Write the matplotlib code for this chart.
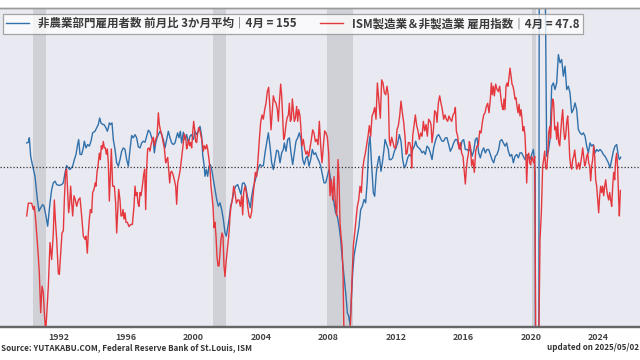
import matplotlib
matplotlib.use("Agg")
import matplotlib.pyplot as plt

plt.rcParams['font.family'] = ['Noto Sans CJK JP', 'DejaVu Sans']

# nonfarm payrolls, 3-month average of monthly change (thousands), decimal years
nfp_dates = [
    1990.125, 1990.224, 1990.283, 1990.362, 1990.481, 1990.619, 1990.678, 1990.757, 1990.856, 1990.955,
    1991.073, 1991.152, 1991.271, 1991.370, 1991.508, 1991.607, 1991.705, 1991.804, 1991.903, 1992.061,
    1992.199, 1992.298, 1992.397, 1992.495, 1992.594, 1992.693, 1992.851, 1992.950, 1993.049, 1993.128,
    1993.207, 1993.286, 1993.384, 1993.483, 1993.542, 1993.641, 1993.740, 1993.839, 1993.937, 1994.036,
    1994.174, 1994.273, 1994.372, 1994.451, 1994.530, 1994.629, 1994.708, 1994.826, 1994.905, 1994.965,
    1995.024, 1995.103, 1995.182, 1995.261, 1995.360, 1995.458, 1995.557, 1995.656, 1995.755, 1995.854,
    1995.952, 1996.051, 1996.150, 1996.249, 1996.347, 1996.446, 1996.545, 1996.644, 1996.743, 1996.841,
    1996.940, 1997.039, 1997.138, 1997.236, 1997.335, 1997.434, 1997.533, 1997.631, 1997.691, 1997.770,
    1997.849, 1997.928, 1998.026, 1998.125, 1998.224, 1998.323, 1998.422, 1998.520, 1998.619, 1998.718,
    1998.817, 1998.915, 1999.014, 1999.073, 1999.152, 1999.231, 1999.310, 1999.409, 1999.508, 1999.607,
    1999.705, 1999.804, 1999.903, 2000.002, 2000.101, 2000.199, 2000.298, 2000.397, 2000.496, 2000.555,
    2000.634, 2000.693, 2000.772, 2000.851, 2000.930, 2001.009, 2001.088, 2001.187, 2001.286, 2001.385,
    2001.483, 2001.582, 2001.681, 2001.780, 2001.878, 2001.957, 2002.036, 2002.115, 2002.214, 2002.313,
    2002.412, 2002.510, 2002.629, 2002.728, 2002.827, 2002.906, 2003.004, 2003.103, 2003.202, 2003.301,
    2003.380, 2003.459, 2003.558, 2003.656, 2003.755, 2003.854, 2003.953, 2004.051, 2004.150, 2004.249,
    2004.348, 2004.446, 2004.545, 2004.644, 2004.743, 2004.841, 2004.940, 2005.039, 2005.138, 2005.237,
    2005.335, 2005.395, 2005.493, 2005.592, 2005.691, 2005.790, 2005.888, 2005.987, 2006.086, 2006.185,
    2006.283, 2006.382, 2006.481, 2006.580, 2006.679, 2006.758, 2006.856, 2006.955, 2007.054, 2007.153,
    2007.251, 2007.350, 2007.449, 2007.548, 2007.646, 2007.745, 2007.844, 2007.943, 2008.041, 2008.140,
    2008.239, 2008.338, 2008.437, 2008.535, 2008.634, 2008.733, 2008.812, 2008.891, 2008.970, 2009.049,
    2009.128, 2009.207, 2009.286, 2009.365, 2009.444, 2009.523, 2009.622, 2009.721, 2009.819, 2009.918,
    2010.017, 2010.116, 2010.214, 2010.313, 2010.392, 2010.471, 2010.570, 2010.669, 2010.748, 2010.827,
    2010.866, 2010.965, 2011.024, 2011.123, 2011.202, 2011.300, 2011.360, 2011.458, 2011.557, 2011.616,
    2011.715, 2011.814, 2011.913, 2012.011, 2012.110, 2012.209, 2012.308, 2012.406, 2012.505, 2012.604,
    2012.703, 2012.802, 2012.900, 2012.999, 2013.098, 2013.177, 2013.256, 2013.355, 2013.453, 2013.552,
    2013.651, 2013.750, 2013.848, 2013.947, 2014.046, 2014.145, 2014.244, 2014.342, 2014.441, 2014.540,
    2014.639, 2014.737, 2014.836, 2014.935, 2015.034, 2015.132, 2015.231, 2015.330, 2015.429, 2015.528,
    2015.626, 2015.725, 2015.824, 2015.923, 2016.021, 2016.120, 2016.219, 2016.318, 2016.416, 2016.515,
    2016.614, 2016.713, 2016.811, 2016.910, 2017.009, 2017.108, 2017.207, 2017.306, 2017.404, 2017.503,
    2017.602, 2017.701, 2017.799, 2017.898, 2017.997, 2018.096, 2018.175, 2018.274, 2018.373, 2018.471,
    2018.570, 2018.669, 2018.768, 2018.866, 2018.965, 2019.064, 2019.163, 2019.261, 2019.360, 2019.459,
    2019.558, 2019.656, 2019.755, 2019.854, 2019.953, 2020.052, 2020.150, 2020.200, 2020.260, 2020.330,
    2020.400, 2020.440, 2020.520, 2020.650, 2020.760, 2020.860, 2020.940, 2021.039, 2021.138, 2021.237,
    2021.336, 2021.434, 2021.533, 2021.632, 2021.731, 2021.830, 2021.928, 2022.027, 2022.126, 2022.225,
    2022.323, 2022.422, 2022.521, 2022.620, 2022.718, 2022.817, 2022.916, 2023.015, 2023.114, 2023.212,
    2023.311, 2023.410, 2023.508, 2023.607, 2023.706, 2023.805, 2023.904, 2024.002, 2024.101, 2024.200,
    2024.299, 2024.397, 2024.496, 2024.595, 2024.694, 2024.792, 2024.891, 2024.990, 2025.089, 2025.188,
    2025.247, 2025.326,
]
nfp_values = [
    236, 240, 265, 161, 105, 48, -8, -83, -149, -130,
    -112, -121, -177, -234, -102, -27, 11, 20, 1, -4,
    1, 11, 67, 108, 95, 86, 105, 142, 171, 218,
    255, 171, 171, 208, 246, 208, 227, 218, 246, 293,
    302, 321, 340, 377, 349, 340, 340, 321, 302, 321,
    349, 340, 349, 255, 199, 124, 105, 142, 189, 208,
    199, 142, 105, 199, 278, 265, 283, 265, 214, 208,
    236, 246, 240, 274, 308, 297, 265, 246, 180, 236,
    265, 283, 302, 283, 255, 208, 255, 302, 265, 236,
    227, 236, 274, 293, 265, 302, 236, 297, 255, 283,
    236, 274, 283, 255, 302, 283, 302, 330, 274, 171,
    114, 48, 86, 48, 105, 114, 86, 29, -27, -83,
    -121, -102, -140, -196, -272, -290, -243, -196, -121, -83,
    -36, -8, 1, -27, -55, 7, 11, -8, -65, -102,
    -130, -65, -13, 20, 58, 95, 114, 105, 108, 180,
    236, 293, 218, 124, 86, 142, 195, 189, 124, 180,
    199, 236, 189, 255, 265, 180, 114, 180, 246, 265,
    293, 255, 142, 114, 152, 161, 105, 142, 199, 171,
    180, 152, 133, 105, 58, 11, 11, 48, 86, 29,
    -46, -102, -159, -177, -234, -309, -403, -478, -554, -629,
    -723, -742, -789, -648, -497, -403, -347, -290, -234, -140,
    -121, -83, -102, 29, 218, 274, 105, -46, -65, 48,
    86, 142, 161, 76, 124, 199, 255, 227, 199, 142,
    142, 152, 189, 208, 236, 283, 246, 142, 95, 114,
    152, 171, 161, 199, 218, 246, 218, 208, 199, 180,
    189, 171, 218, 208, 180, 142, 208, 246, 274, 283,
    265, 246, 246, 265, 265, 227, 189, 208, 236, 255,
    255, 218, 199, 246, 255, 199, 199, 189, 208, 161,
    189, 255, 265, 180, 152, 189, 208, 180, 199, 199,
    171, 142, 124, 161, 171, 199, 246, 255, 236, 218,
    236, 189, 161, 171, 124, 161, 171, 152, 180, 180,
    161, 142, 171, 161, 142, 171, 199, 150, 60, -7000,
    -5500, -4000, 3000, 2700, 1300, 1100, 161, 189, 255, 556,
    575, 537, 575, 735, 688, 707, 613, 669, 537, 556,
    518, 406, 424, 462, 424, 312, 293, 283, 293, 274,
    218, 180, 236, 218, 227, 180, 199, 189, 199, 189,
    171, 161, 142, 124, 95, 142, 189, 218, 227, 161,
    142, 155,
]

# ISM manufacturing & non-manufacturing employment index, decimal years
ism_dates = [
    1990.125, 1990.224, 1990.323, 1990.421, 1990.520, 1990.579, 1990.639, 1990.718, 1990.816, 1990.876,
    1990.955, 1991.034, 1991.113, 1991.172, 1991.251, 1991.310, 1991.409, 1991.508, 1991.607, 1991.705,
    1991.765, 1991.824, 1991.903, 1992.002, 1992.061, 1992.140, 1992.219, 1992.298, 1992.357, 1992.436,
    1992.495, 1992.555, 1992.614, 1992.673, 1992.732, 1992.792, 1992.851, 1992.930, 1993.009, 1993.088,
    1993.187, 1993.286, 1993.384, 1993.483, 1993.582, 1993.641, 1993.720, 1993.779, 1993.839, 1993.898,
    1993.977, 1994.036, 1994.115, 1994.194, 1994.234, 1994.293, 1994.352, 1994.431, 1994.490, 1994.550,
    1994.609, 1994.668, 1994.728, 1994.787, 1994.846, 1994.905, 1994.965, 1995.024, 1995.083, 1995.142,
    1995.221, 1995.320, 1995.399, 1995.458, 1995.518, 1995.577, 1995.656, 1995.715, 1995.775, 1995.834,
    1995.893, 1995.952, 1996.012, 1996.091, 1996.189, 1996.288, 1996.387, 1996.486, 1996.545, 1996.604,
    1996.664, 1996.723, 1996.782, 1996.841, 1996.901, 1996.980, 1997.059, 1997.118, 1997.177, 1997.236,
    1997.296, 1997.375, 1997.434, 1997.493, 1997.572, 1997.631, 1997.691, 1997.770, 1997.849, 1997.888,
    1997.928, 1997.987, 1998.046, 1998.125, 1998.204, 1998.283, 1998.362, 1998.422, 1998.481, 1998.540,
    1998.599, 1998.659, 1998.718, 1998.797, 1998.876, 1998.955, 1999.014, 1999.073, 1999.152, 1999.231,
    1999.310, 1999.389, 1999.468, 1999.547, 1999.607, 1999.666, 1999.725, 1999.784, 1999.844, 1999.903,
    1999.962, 2000.022, 2000.081, 2000.140, 2000.199, 2000.259, 2000.318, 2000.397, 2000.456, 2000.535,
    2000.594, 2000.654, 2000.733, 2000.792, 2000.851, 2000.930, 2000.989, 2001.049, 2001.108, 2001.167,
    2001.227, 2001.286, 2001.345, 2001.404, 2001.464, 2001.523, 2001.582, 2001.641, 2001.701, 2001.760,
    2001.819, 2001.878, 2001.938, 2001.997, 2002.056, 2002.115, 2002.175, 2002.234, 2002.313, 2002.392,
    2002.471, 2002.550, 2002.629, 2002.708, 2002.787, 2002.866, 2002.925, 2002.985, 2003.064, 2003.143,
    2003.222, 2003.301, 2003.380, 2003.459, 2003.518, 2003.597, 2003.676, 2003.755, 2003.834, 2003.913,
    2003.992, 2004.071, 2004.150, 2004.229, 2004.308, 2004.387, 2004.466, 2004.545, 2004.604, 2004.683,
    2004.743, 2004.822, 2004.901, 2004.980, 2005.039, 2005.098, 2005.177, 2005.237, 2005.296, 2005.355,
    2005.414, 2005.493, 2005.553, 2005.632, 2005.691, 2005.750, 2005.809, 2005.869, 2005.928, 2005.987,
    2006.046, 2006.125, 2006.185, 2006.244, 2006.323, 2006.382, 2006.441, 2006.520, 2006.599, 2006.679,
    2006.758, 2006.837, 2006.916, 2006.995, 2007.074, 2007.153, 2007.232, 2007.311, 2007.390, 2007.469,
    2007.548, 2007.627, 2007.706, 2007.785, 2007.864, 2007.943, 2008.022, 2008.101, 2008.180, 2008.259,
    2008.338, 2008.417, 2008.496, 2008.575, 2008.634, 2008.693, 2008.753, 2008.812, 2008.871, 2008.930,
    2009.009, 2009.088, 2009.167, 2009.246, 2009.325, 2009.404, 2009.483, 2009.563, 2009.642, 2009.721,
    2009.800, 2009.879, 2009.958, 2010.037, 2010.116, 2010.195, 2010.274, 2010.353, 2010.432, 2010.511,
    2010.590, 2010.669, 2010.748, 2010.827, 2010.906, 2010.985, 2011.083, 2011.162, 2011.241, 2011.320,
    2011.399, 2011.478, 2011.557, 2011.616, 2011.676, 2011.755, 2011.834, 2011.913, 2011.992, 2012.071,
    2012.150, 2012.229, 2012.308, 2012.387, 2012.466, 2012.545, 2012.604, 2012.664, 2012.743, 2012.822,
    2012.900, 2012.940, 2012.999, 2013.078, 2013.157, 2013.236, 2013.315, 2013.394, 2013.473, 2013.552,
    2013.631, 2013.710, 2013.789, 2013.868, 2013.947, 2014.026, 2014.086, 2014.145, 2014.224, 2014.303,
    2014.382, 2014.441, 2014.520, 2014.599, 2014.678, 2014.757, 2014.836, 2014.915, 2014.994, 2015.073,
    2015.152, 2015.231, 2015.310, 2015.389, 2015.468, 2015.528, 2015.587, 2015.666, 2015.745, 2015.824,
    2015.903, 2015.982, 2016.061, 2016.120, 2016.180, 2016.239, 2016.298, 2016.357, 2016.416, 2016.495,
    2016.574, 2016.653, 2016.733, 2016.812, 2016.891, 2016.970, 2017.049, 2017.128, 2017.207, 2017.286,
    2017.365, 2017.444, 2017.523, 2017.602, 2017.661, 2017.720, 2017.780, 2017.839, 2017.918, 2017.997,
    2018.076, 2018.155, 2018.234, 2018.294, 2018.353, 2018.412, 2018.471, 2018.531, 2018.590, 2018.649,
    2018.708, 2018.768, 2018.827, 2018.886, 2018.945, 2019.005, 2019.064, 2019.123, 2019.182, 2019.242,
    2019.301, 2019.360, 2019.419, 2019.479, 2019.538, 2019.597, 2019.656, 2019.716, 2019.755, 2019.815,
    2019.874, 2019.933, 2019.992, 2020.052, 2020.111, 2020.170, 2020.229, 2020.300, 2020.380, 2020.460,
    2020.545, 2020.624, 2020.703, 2020.763, 2020.822, 2020.881, 2020.940, 2021.000, 2021.059, 2021.118,
    2021.177, 2021.237, 2021.296, 2021.355, 2021.415, 2021.474, 2021.533, 2021.592, 2021.652, 2021.711,
    2021.770, 2021.829, 2021.889, 2021.948, 2022.007, 2022.066, 2022.126, 2022.185, 2022.244, 2022.303,
    2022.363, 2022.422, 2022.481, 2022.540, 2022.600, 2022.659, 2022.718, 2022.777, 2022.837, 2022.896,
    2022.955, 2023.015, 2023.074, 2023.133, 2023.192, 2023.252, 2023.311, 2023.370, 2023.429, 2023.489,
    2023.548, 2023.607, 2023.666, 2023.726, 2023.785, 2023.844, 2023.903, 2023.963, 2024.022, 2024.081,
    2024.140, 2024.200, 2024.259, 2024.318, 2024.378, 2024.437, 2024.496, 2024.555, 2024.615, 2024.674,
    2024.733, 2024.792, 2024.852, 2024.911, 2024.970, 2025.029, 2025.089, 2025.148, 2025.207, 2025.247,
    2025.306,
]
ism_values = [
    45.4, 46.6, 46.6, 46.6, 46.0, 46.3, 45.4, 43.8, 41.6, 40.0,
    36.3, 38.8, 38.2, 36.3, 34.5, 36.0, 38.8, 42.9, 41.3, 43.8,
    46.9, 45.1, 43.2, 40.0, 39.9, 41.9, 43.8, 44.0, 46.9, 49.6,
    49.8, 47.6, 45.7, 46.6, 48.2, 46.6, 45.4, 47.3, 46.9, 46.3,
    46.9, 47.1, 45.4, 43.5, 43.2, 43.5, 41.9, 43.8, 45.1, 46.0,
    45.7, 47.6, 47.9, 48.5, 48.2, 49.5, 50.1, 51.3, 50.7, 52.0,
    51.7, 52.4, 51.8, 51.8, 51.2, 51.7, 50.4, 46.8, 49.1, 51.7,
    48.2, 48.2, 46.6, 43.8, 45.7, 47.9, 46.9, 45.4, 45.4, 46.0,
    45.1, 45.7, 44.8, 44.8, 44.4, 44.6, 44.6, 46.3, 48.2, 47.3,
    47.6, 46.6, 46.3, 47.6, 47.3, 48.2, 49.3, 49.8, 46.0, 49.9,
    51.7, 51.8, 51.5, 52.1, 52.6, 52.8, 52.0, 52.6, 52.9, 53.9,
    55.1, 54.0, 53.5, 53.1, 52.4, 51.8, 50.4, 50.7, 50.9, 49.8,
    48.5, 49.5, 49.6, 49.3, 48.8, 48.2, 46.5, 48.5, 49.1, 49.8,
    50.9, 52.0, 53.1, 52.8, 51.7, 52.1, 52.6, 52.0, 52.3, 51.8,
    53.2, 54.3, 53.5, 52.4, 52.3, 53.2, 53.7, 53.4, 52.9, 52.3,
    51.5, 52.0, 51.7, 52.1, 51.7, 50.7, 49.8, 48.2, 47.3, 46.3,
    44.3, 44.8, 43.5, 41.6, 40.7, 40.7, 41.9, 43.2, 43.8, 43.5,
    40.7, 39.7, 41.0, 41.9, 42.9, 43.8, 45.4, 46.3, 46.9, 48.2,
    47.6, 46.6, 46.9, 46.9, 46.3, 47.3, 45.5, 47.6, 48.2, 47.6,
    46.3, 45.4, 45.2, 45.8, 46.9, 48.2, 49.5, 49.1, 50.7, 52.6,
    54.2, 54.9, 54.5, 55.4, 56.0, 57.1, 57.5, 55.4, 53.5, 55.4,
    56.7, 56.2, 56.0, 55.4, 54.3, 56.0, 57.8, 56.7, 54.6, 52.6,
    52.9, 54.0, 54.6, 54.9, 56.0, 54.3, 54.5, 56.4, 55.3, 54.3,
    54.6, 55.7, 54.3, 55.4, 54.8, 53.5, 52.0, 52.6, 51.7, 51.2,
    51.5, 51.0, 51.8, 52.6, 53.5, 53.2, 52.4, 52.6, 52.1, 54.3,
    52.0, 50.4, 52.0, 53.4, 53.2, 52.8, 51.3, 47.3, 48.8, 46.9,
    49.1, 46.6, 45.4, 50.7, 48.8, 44.8, 43.5, 42.6, 40.0, 34.0,
    33.0, 32.5, 33.0, 33.5, 35.7, 39.4, 42.6, 43.8, 45.1, 46.3,
    46.9, 48.2, 47.6, 49.8, 50.7, 51.3, 52.1, 52.9, 53.9, 52.9,
    54.8, 55.1, 55.6, 54.5, 57.9, 56.4, 54.6, 58.2, 57.9, 57.0,
    56.8, 57.6, 56.7, 52.6, 52.0, 52.8, 52.3, 51.8, 51.8, 53.5,
    53.9, 54.8, 56.2, 55.1, 54.2, 52.9, 51.2, 51.3, 52.3, 52.3,
    51.7, 49.9, 52.9, 53.9, 54.9, 53.9, 53.4, 52.6, 53.2, 52.9,
    54.3, 53.4, 54.0, 52.9, 54.5, 54.3, 54.0, 52.3, 53.4, 55.3,
    55.1, 54.2, 56.0, 56.7, 56.0, 55.4, 54.5, 54.9, 54.5, 54.3,
    54.8, 54.5, 54.3, 54.9, 55.1, 55.6, 53.4, 52.9, 51.7, 52.3,
    51.3, 51.0, 49.5, 48.4, 49.8, 50.7, 51.2, 52.4, 52.0, 50.1,
    50.7, 49.5, 51.5, 52.0, 52.0, 53.4, 53.2, 54.2, 54.9, 55.1,
    55.7, 56.0, 55.1, 56.4, 57.9, 56.8, 57.6, 56.7, 57.8, 57.3,
    57.1, 57.6, 56.4, 55.7, 55.4, 56.4, 55.4, 57.6, 57.9, 57.6,
    58.4, 59.3, 58.6, 57.8, 57.6, 57.1, 56.4, 56.5, 55.7, 55.1,
    55.9, 54.8, 55.4, 54.5, 53.4, 53.8, 52.9, 50.7, 48.5, 51.0,
    51.3, 50.4, 50.2, 51.0, 50.7, 50.4, 51.0, 32.0, 29.5, 32.0,
    43.2, 45.7, 50.1, 50.7, 51.5, 49.9, 49.8, 51.0, 53.2, 53.8,
    52.7, 55.1, 56.4, 56.0, 53.5, 53.8, 52.6, 54.2, 52.3, 52.0,
    53.2, 54.5, 55.4, 53.5, 52.6, 52.9, 54.2, 54.8, 53.2, 51.0,
    50.1, 49.8, 50.7, 51.0, 51.6, 50.7, 49.8, 50.1, 50.4, 49.8,
    50.4, 51.0, 51.8, 51.0, 50.1, 50.4, 51.0, 51.3, 50.4, 50.1,
    48.7, 50.1, 50.7, 52.0, 51.0, 48.8, 48.2, 46.9, 45.7, 47.3,
    48.2, 47.6, 48.2, 47.3, 48.2, 48.8, 47.9, 47.3, 46.9, 47.6,
    46.9, 46.3, 48.2, 49.5, 48.8, 50.7, 51.3, 49.8, 46.9, 45.4,
    47.8,
]

recession_start = [1990.50, 2001.167, 2007.917, 2020.083]
recession_end = [1991.25, 2001.917, 2009.45, 2020.30]
year_ticks = list(range(1992, 2025, 4))

nfp_label = "非農業部門雇用者数 前月比 3か月平均｜4月 = 155"
ism_label = "ISM製造業＆非製造業 雇用指数｜4月 = 47.8"

fig = plt.figure(figsize=(6.4, 3.6), dpi=100)
ax = fig.add_axes([0, 0.093, 1, 0.886])
ax.set_facecolor('#e9e9f1')

for s, e in zip(recession_start, recession_end):
    ax.axvspan(s, e, color='#d0d1d7', lw=0, zorder=0)

l1, = ax.plot(nfp_dates, nfp_values, color='#3171ab', lw=1.0, label=nfp_label)
ax.set_xlim(1988.545, 2026.47)
ax.set_ylim(-800, 1000)

ax2 = ax.twinx()
l2, = ax2.plot(ism_dates, ism_values, color='#e5383e', lw=1.0, label=ism_label)
ax2.set_ylim(35, 65)
ax2.axhline(50, color='#333333', lw=0.9, ls=(0, (1, 1.6)), zorder=1)

for a in (ax, ax2):
    a.set_yticks([])
    a.spines['left'].set_visible(False)
    a.spines['right'].set_visible(False)
    a.spines['top'].set_color('#9a9a9a')
    a.spines['top'].set_linewidth(1.0)
    a.spines['bottom'].set_color('#666666')
    a.spines['bottom'].set_linewidth(1.6)

ax.set_xticks(year_ticks)
ax.set_xticklabels([str(y) for y in year_ticks], fontsize=6.4, fontweight='bold', color='#444444')
ax.tick_params(axis='x', length=0, pad=4.5)

leg = ax2.legend(handles=[l1, l2], loc='upper left', bbox_to_anchor=(0.004, 0.962),
                 bbox_transform=fig.transFigure, ncol=2,
                 prop={'weight': 'bold', 'size': 8.25},
                 frameon=True, fancybox=False, framealpha=0.75, edgecolor='#8a8a8a',
                 handlelength=2.0, handletextpad=0.8, columnspacing=2.0,
                 borderpad=0.3, borderaxespad=0)
leg.get_frame().set_linewidth(0.9)
for t in leg.get_texts():
    t.set_color('#3a3a3a')

fig.text(0.002, 0.022, "Source: YUTAKABU.COM, Federal Reserve Bank of St.Louis, ISM",
         fontsize=5.8, fontweight='bold', color='#333333', ha='left', va='bottom')
fig.text(0.998, 0.022, "updated on 2025/05/02",
         fontsize=5.8, fontweight='bold', color='#333333', ha='right', va='bottom')

fig.savefig('out.png', dpi=100)
